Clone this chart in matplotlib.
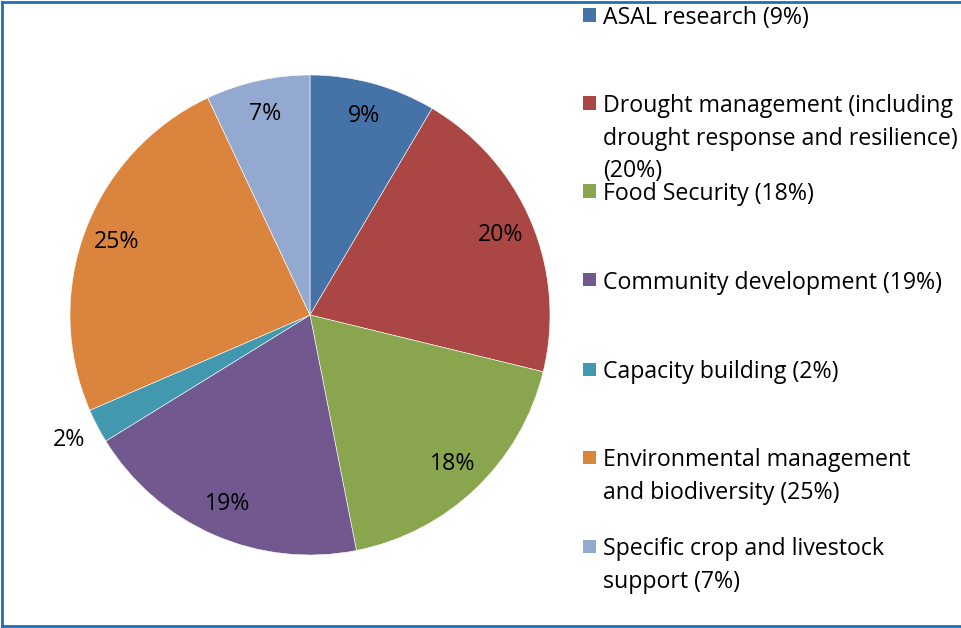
import matplotlib.pyplot as plt
import numpy as np
from matplotlib.lines import Line2D
from matplotlib.patches import Rectangle

plt.rcParams["font.family"] = ["Open Sans", "DejaVu Sans"]

# data
categories = [
    "ASAL research (9%)",
    "Drought management (including\ndrought response and resilience)\n(20%)",
    "Food Security (18%)",
    "Community development (19%)",
    "Capacity building (2%)",
    "Environmental management\nand biodiversity (25%)",
    "Specific crop and livestock\nsupport (7%)",
]
shares = [8.5, 20.3, 18.1, 19.3, 2.3, 24.5, 7.0]
pct_labels = ["9%", "20%", "18%", "19%", "2%", "25%", "7%"]
colors = ["#4572A7", "#AA4643", "#89A54E", "#71588F", "#4198AF", "#DB843D", "#93A9CF"]

W, H, DPI = 961, 628, 100
FONT = 16.7
BORDER = "#1F6FB8"

fig = plt.figure(figsize=(W / DPI, H / DPI), dpi=DPI)

# pie centred at (310, 315) px, radius 240 px
cx, cy, r = 310, 315, 240
ax = fig.add_axes([(cx - r) / W, 1 - (cy + r) / H, 2 * r / W, 2 * r / H])
wedges, _ = ax.pie(
    shares,
    colors=colors,
    startangle=90,
    counterclock=False,
    radius=1,
    wedgeprops=dict(edgecolor="white", linewidth=0.4),
)
ax.set_xlim(-1, 1)
ax.set_ylim(-1, 1)
ax.axis("off")

for w, lab in zip(wedges, pct_labels):
    ang = np.deg2rad((w.theta1 + w.theta2) / 2)
    dist = 1.13 if lab == "2%" else 0.86
    ax.text(dist * np.cos(ang), dist * np.sin(ang), lab, ha="center", va="center",
            fontsize=FONT, color="black")

# legend, laid out like the Excel original
first_line_y = [15, 103, 191, 280, 369, 457, 546]
for label, col, y in zip(categories, colors, first_line_y):
    fig.patches.append(Rectangle((583 / W, 1 - (y + 6.5) / H), 13 / W, 13 / H,
                                 transform=fig.transFigure, facecolor=col, edgecolor="none"))
    fig.text(603 / W, 1 - (y - 9) / H, label, ha="left", va="top", fontsize=FONT,
             linespacing=1.48, color="black")

# chart frame (right edge is cut off in the original)
for xs, ys in [([1.5, 1.5], [2, 626]), ([1.5, W], [2, 2]), ([1.5, W], [626, 626])]:
    fig.lines.append(Line2D([x / W for x in xs], [1 - y / H for y in ys],
                            transform=fig.transFigure, color=BORDER, linewidth=2))

fig.savefig("out.png", dpi=DPI, facecolor="white")
